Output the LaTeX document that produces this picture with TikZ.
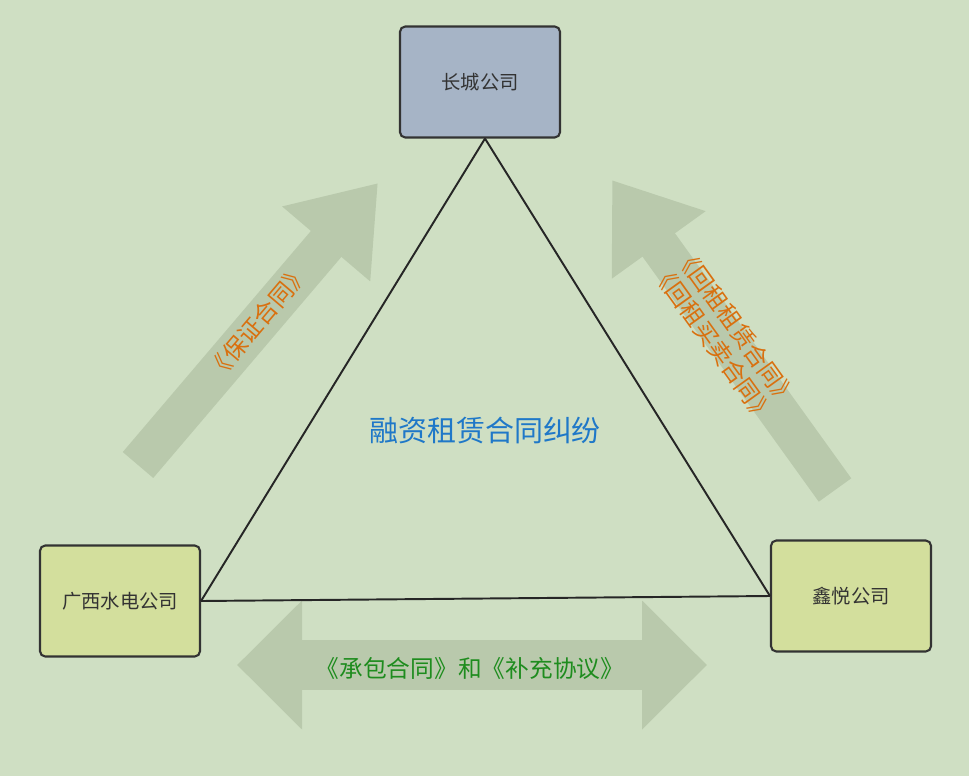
\documentclass[tikz,border=0pt]{standalone}
\usepackage{fontspec}
\setmainfont{Noto Sans CJK SC}
\usetikzlibrary{arrows.meta}
\definecolor{bgc}{HTML}{CFDFC3}
\definecolor{arrc}{HTML}{B9C9AC}
\definecolor{topc}{HTML}{A6B4C6}
\definecolor{sidec}{HTML}{D3DF9D}
\definecolor{orc}{HTML}{D9700F}
\definecolor{grc}{HTML}{1E8C1E}
\definecolor{blc}{HTML}{1F78C8}
\tikzset{
  party/.style={draw=black!80, line width=1.2pt, rounded corners=3pt, minimum width=3.2cm, minimum height=2.22cm, font=\fontsize{11}{13}\selectfont, text=black!80},
  bigarrow/.style={arrc, line width=0.8cm, -{Triangle[length=1.6cm, width=2.2cm]}},
  side/.style={draw=black!85, line width=1.1pt}
}
\begin{document}
\begin{tikzpicture}
  \fill[bgc] (0,0) rectangle (19.38,15.52);
  \useasboundingbox (0,0) rectangle (19.38,15.52);

  % big arrows in the background
  \coordinate (GuaTail) at (2.76,6.22);
  \coordinate (GuaTip) at (7.56,11.86);
  \coordinate (LeaTail) at (16.7,5.72);
  \coordinate (LeaTip) at (12.24,11.92);
  \coordinate (ConL) at (4.74,2.22);
  \coordinate (ConR) at (14.14,2.22);
  \draw[bigarrow] (GuaTail) -- (GuaTip);
  \draw[bigarrow] (LeaTail) -- (LeaTip);
  \draw[arrc, line width=1cm, {Triangle[length=1.3cm, width=2.5cm]}-{Triangle[length=1.3cm, width=2.5cm]}] (ConL) -- (ConR);

  \node[party, fill=topc] (Changcheng) at (9.6,13.88) {长城公司};
  \node[party, fill=sidec] (Guangxi) at (2.4,3.5) {广西水电公司};
  \node[party, fill=sidec] (Xinyue) at (17.02,3.6) {鑫悦公司};

  \draw[side] ([xshift=0.1cm]Changcheng.south) -- (Guangxi.east);
  \draw[side] ([xshift=0.1cm]Changcheng.south) -- (Xinyue.west);
  \draw[side] (Guangxi.east) -- (Xinyue.west);

  \node[text=blc, font=\fontsize{16.5}{19}\selectfont] (Dispute) at (9.7,6.92) {融资租赁合同纠纷};
  \node[text=orc, font=\fontsize{13.5}{15}\selectfont, rotate=49.6] (Guarantee) at (5.16,9.08) {《保证合同》};
  \node[text=orc, font=\fontsize{13.5}{16}\selectfont, rotate=-54.3, align=center] (Leaseback) at (14.5,8.82) {《回租租赁合同》\\《回租买卖合同》};
  \node[text=grc, font=\fontsize{13.5}{15}\selectfont] (Contract) at (9.4,2.16) {《承包合同》和《补充协议》};
\end{tikzpicture}
\end{document}
